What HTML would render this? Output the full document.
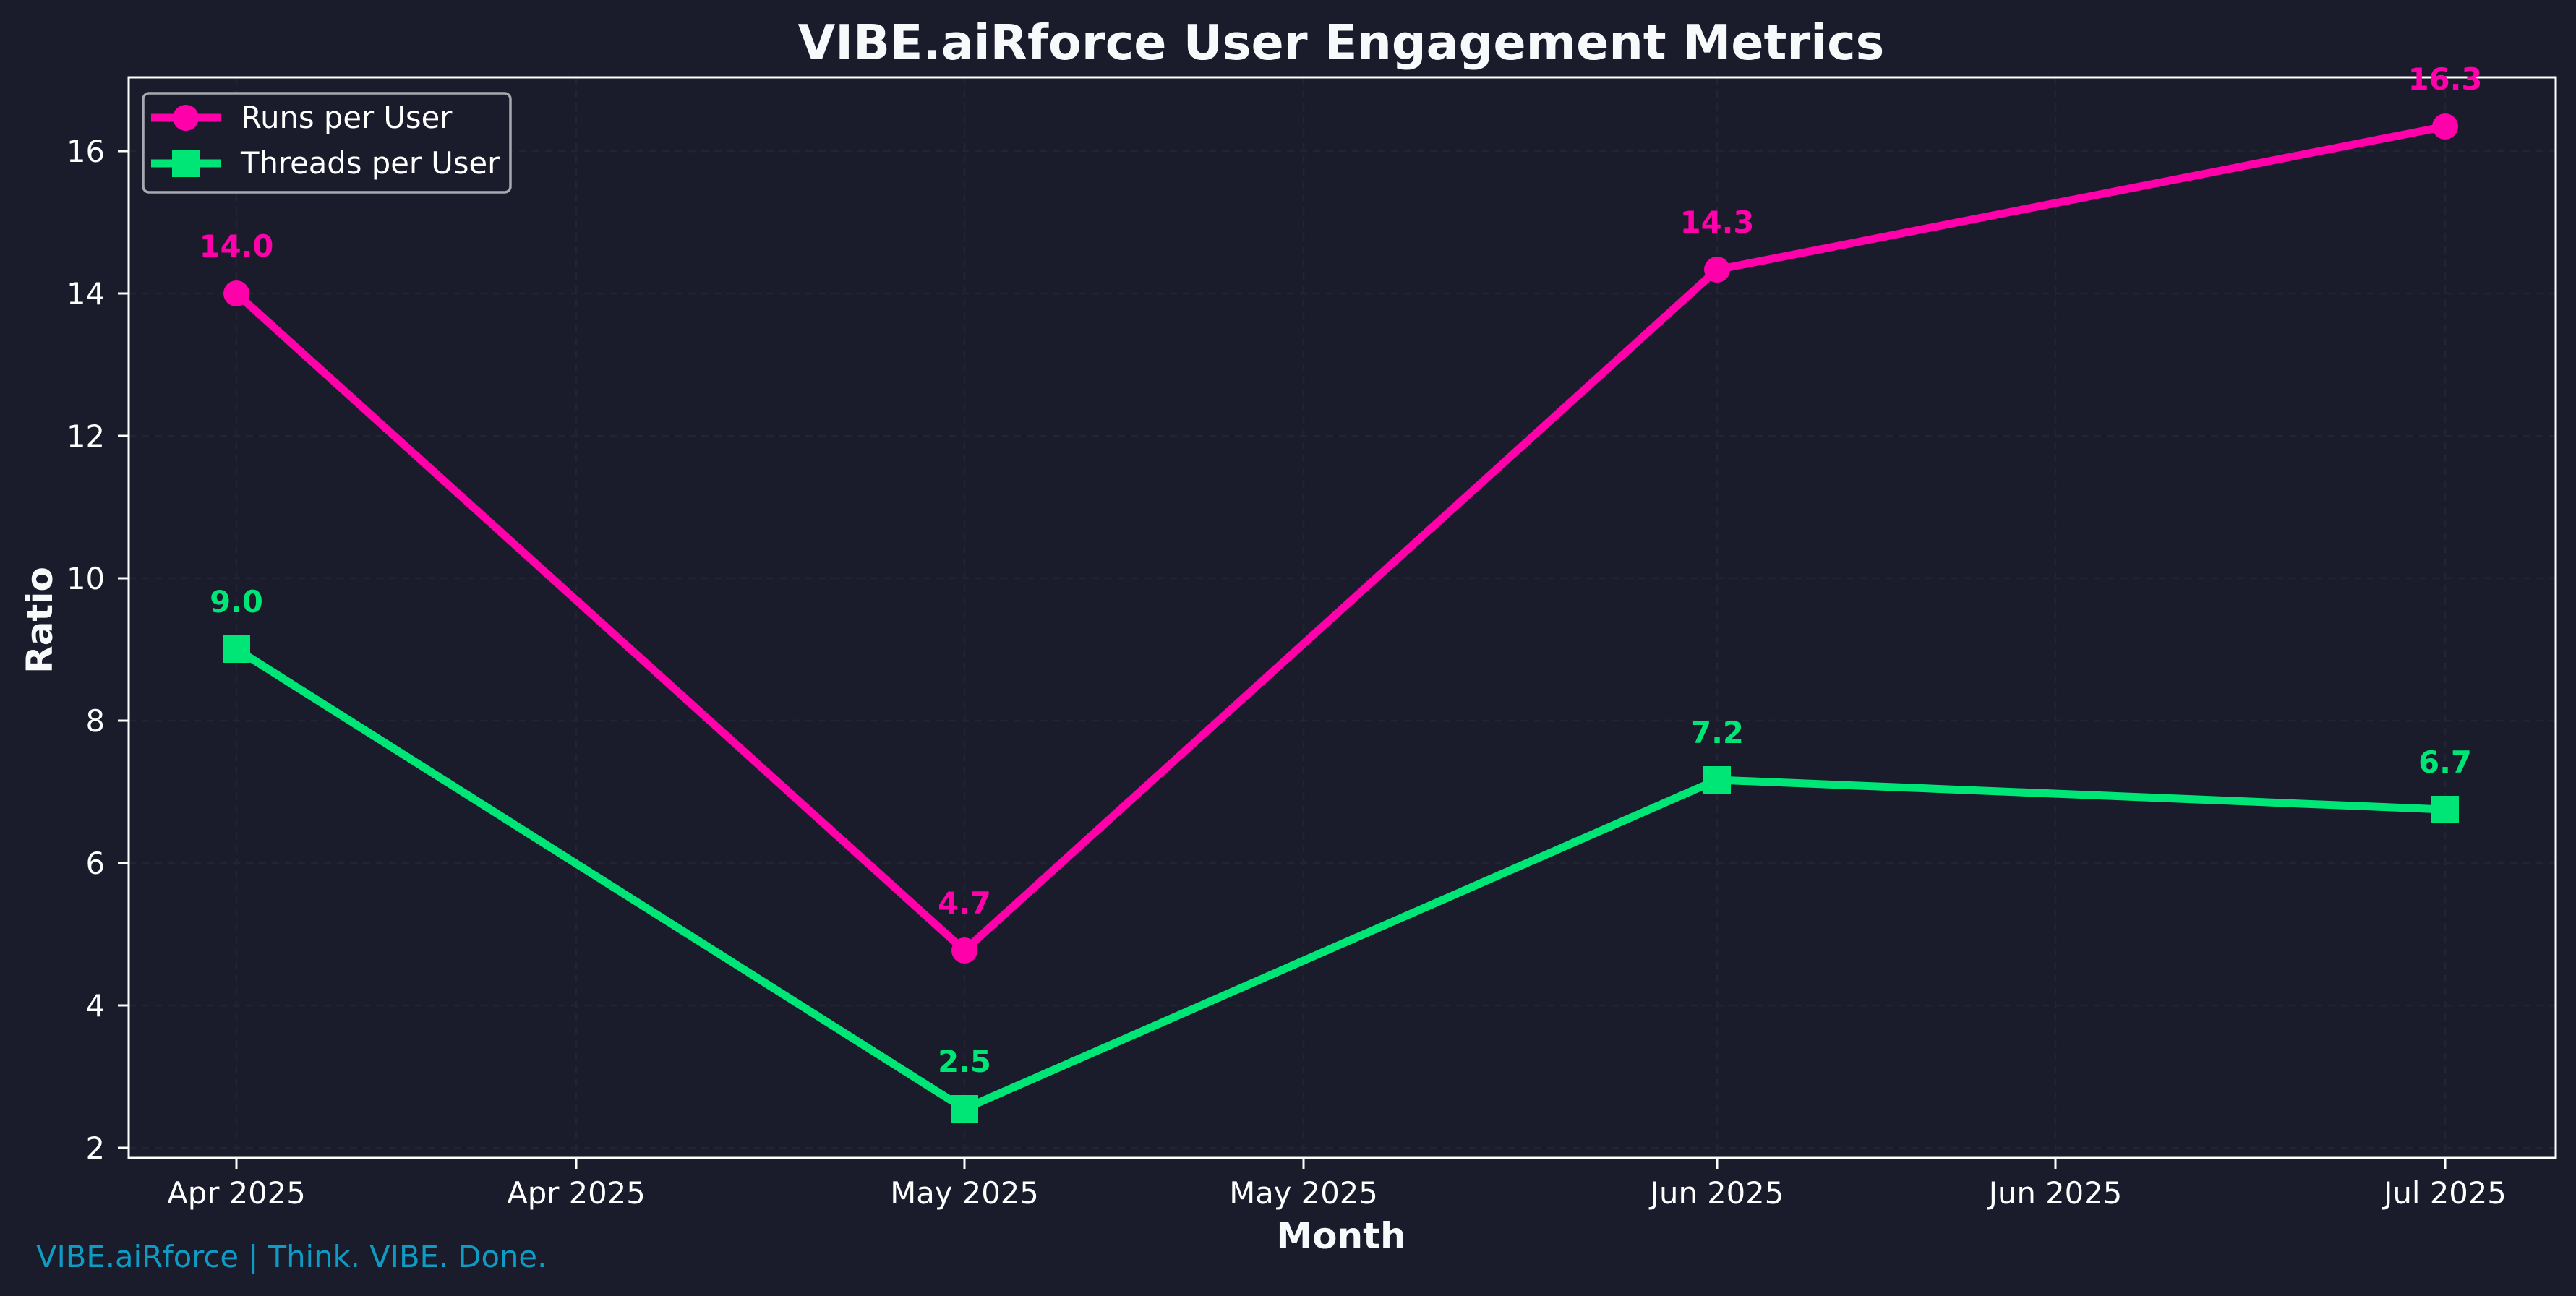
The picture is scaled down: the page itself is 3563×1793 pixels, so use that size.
<!DOCTYPE html>
<html><head><meta charset="utf-8"><style>
html,body{margin:0;padding:0;background:#1a1b2b;}
svg{display:block;}
text{font-family:"DejaVu Sans","Liberation Sans",sans-serif;}
</style></head><body>
<svg width="3563" height="1793" viewBox="0 0 3563 1793" xmlns="http://www.w3.org/2000/svg">
<rect width="3563" height="1793" fill="#1a1b2b"/>
<g stroke="#222434" stroke-width="2.5" stroke-dasharray="10,8">
<line x1="178" x2="3535" y1="1588" y2="1588"/>
<line x1="178" x2="3535" y1="1391" y2="1391"/>
<line x1="178" x2="3535" y1="1194" y2="1194"/>
<line x1="178" x2="3535" y1="997" y2="997"/>
<line x1="178" x2="3535" y1="800" y2="800"/>
<line x1="178" x2="3535" y1="603" y2="603"/>
<line x1="178" x2="3535" y1="406" y2="406"/>
<line x1="178" x2="3535" y1="209" y2="209"/>
<line y1="107" y2="1602" x1="327" x2="327"/>
<line y1="107" y2="1602" x1="797" x2="797"/>
<line y1="107" y2="1602" x1="1334" x2="1334"/>
<line y1="107" y2="1602" x1="1803" x2="1803"/>
<line y1="107" y2="1602" x1="2375" x2="2375"/>
<line y1="107" y2="1602" x1="2843" x2="2843"/>
<line y1="107" y2="1602" x1="3382" x2="3382"/>
</g>
<rect x="178" y="107" width="3357" height="1495" fill="none" stroke="#ffffff" stroke-width="3"/>
<g stroke="#ffffff" stroke-width="3">
<line x1="163" x2="178" y1="1588" y2="1588"/><line x1="163" x2="178" y1="1391" y2="1391"/>
<line x1="163" x2="178" y1="1194" y2="1194"/><line x1="163" x2="178" y1="997" y2="997"/>
<line x1="163" x2="178" y1="800" y2="800"/><line x1="163" x2="178" y1="603" y2="603"/>
<line x1="163" x2="178" y1="406" y2="406"/><line x1="163" x2="178" y1="209" y2="209"/>
<line y1="1602" y2="1617" x1="327" x2="327"/><line y1="1602" y2="1617" x1="797" x2="797"/>
<line y1="1602" y2="1617" x1="1334" x2="1334"/><line y1="1602" y2="1617" x1="1803" x2="1803"/>
<line y1="1602" y2="1617" x1="2375" x2="2375"/><line y1="1602" y2="1617" x1="2843" x2="2843"/>
<line y1="1602" y2="1617" x1="3382" x2="3382"/>
</g>
<g fill="#ffffff" font-size="41.7" text-anchor="end">
<text x="145" y="1603">2</text><text x="145" y="1406">4</text><text x="145" y="1209">6</text>
<text x="145" y="1012">8</text><text x="145" y="815">10</text><text x="145" y="618">12</text>
<text x="145" y="421">14</text><text x="145" y="224">16</text>
</g>
<g fill="#ffffff" font-size="41.7" text-anchor="middle">
<text x="327" y="1665">Apr 2025</text><text x="797" y="1665">Apr 2025</text>
<text x="1334" y="1665">May 2025</text><text x="1803" y="1665">May 2025</text>
<text x="2375" y="1665">Jun 2025</text><text x="2843" y="1665">Jun 2025</text>
<text x="3382" y="1665">Jul 2025</text>
</g>
<text x="1855" y="82" fill="#f8f9fb" font-size="66.7" font-weight="bold" text-anchor="middle">VIBE.aiRforce User Engagement Metrics</text>
<text x="1855" y="1727" fill="#f8f9fb" font-size="50" font-weight="bold" text-anchor="middle">Month</text>
<text transform="translate(72,858) rotate(-90)" fill="#f8f9fb" font-size="50" font-weight="bold" text-anchor="middle">Ratio</text>
<text x="50" y="1753" fill="#0e9bc4" font-size="41.7">VIBE.aiRforce | Think. VIBE. Done.</text>
<polyline points="327,406 1334,1315 2375,373 3382,175" fill="none" stroke="#ff00aa" stroke-width="11" stroke-linejoin="round"/>
<g fill="#ff00aa">
<circle cx="327" cy="406" r="18"/><circle cx="1334" cy="1315" r="18"/>
<circle cx="2375" cy="373" r="18"/><circle cx="3382" cy="175" r="18"/>
</g>
<polyline points="327,898 1334,1534 2375,1079 3382,1120" fill="none" stroke="#00e676" stroke-width="11" stroke-linejoin="round"/>
<g fill="#00e676">
<rect x="308" y="879" width="38" height="38"/><rect x="1315" y="1515" width="38" height="38"/>
<rect x="2356" y="1060" width="38" height="38"/><rect x="3363" y="1101" width="38" height="38"/>
</g>
<g font-size="41.7" font-weight="bold" text-anchor="middle">
<text x="327" y="355" fill="#ff00aa">14.0</text>
<text x="1334" y="1264" fill="#ff00aa">4.7</text>
<text x="2375" y="322" fill="#ff00aa">14.3</text>
<text x="3382" y="124" fill="#ff00aa">16.3</text>
<text x="327" y="847" fill="#00e676">9.0</text>
<text x="1334" y="1483" fill="#00e676">2.5</text>
<text x="2375" y="1028" fill="#00e676">7.2</text>
<text x="3382" y="1069" fill="#00e676">6.7</text>
</g>
<rect x="198" y="129" width="508" height="137" rx="8" fill="#1a1b2b" stroke="#a8a9b0" stroke-width="3.5"/>
<line x1="209" x2="305" y1="163" y2="163" stroke="#ff00aa" stroke-width="11"/>
<circle cx="257" cy="163" r="18" fill="#ff00aa"/>
<line x1="209" x2="305" y1="226" y2="226" stroke="#00e676" stroke-width="11"/>
<rect x="238" y="207" width="38" height="38" fill="#00e676"/>
<text x="333" y="177" fill="#ffffff" font-size="41.7">Runs per User</text>
<text x="333" y="240" fill="#ffffff" font-size="41.7">Threads per User</text>
</svg>
</body></html>
